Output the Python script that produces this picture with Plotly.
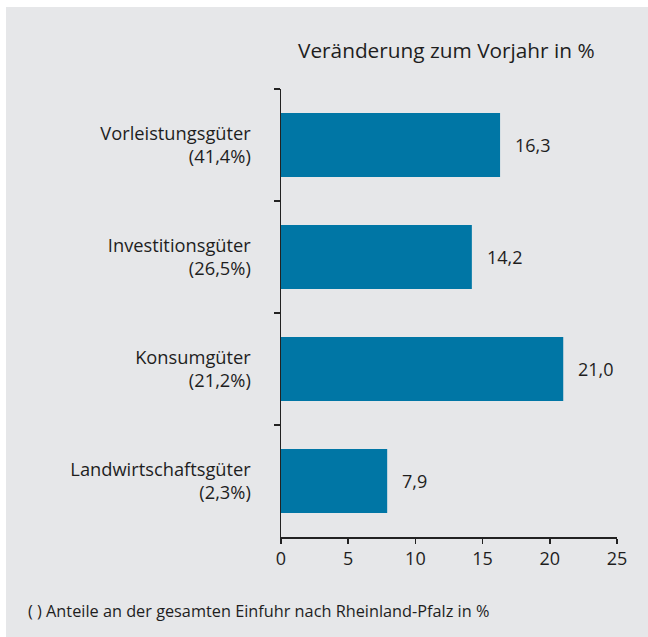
import plotly.graph_objects as go

categories = ["Vorleistungsgüter<br>(41,4%)", "Investitionsgüter<br>(26,5%)",
              "Konsumgüter<br>(21,2%)", "Landwirtschaftsgüter<br>(2,3%)"]
values = [16.3, 14.2, 21.0, 7.9]
x_ticks = [0, 5, 10, 15, 20, 25]
title_text = "Veränderung zum Vorjahr in %"
footnote = "( ) Anteile an der gesamten Einfuhr nach Rheinland-Pfalz in %"

W, H = 648, 637
ML, MR, MT, MB = 281, 31, 89, 100
pw, ph = W - ML - MR, H - MT - MB

def px_x(p):
    return (p - ML) / pw

def px_y(p):
    return 1 - (p - MT) / ph

BG = "#e6e7e9"
BAR = "#0076a5"
TXT = "#1e1e1e"
FONT = "Open Sans"

fig = go.Figure()
fig.add_trace(go.Bar(
    x=values, y=categories, orientation="h",
    marker=dict(color=BAR, line=dict(width=0)),
    width=0.57, hoverinfo="skip",
))

annotations = []
for v, c in zip(values, categories):
    annotations.append(dict(
        x=v, y=c, xref="x", yref="y", text=f"{v:.1f}".replace(".", ","),
        showarrow=False, xanchor="left", yanchor="middle", xshift=13,
        font=dict(size=18, color=TXT, family=FONT),
    ))
annotations.append(dict(
    x=px_x(446), y=px_y(50), xref="paper", yref="paper", text=title_text,
    showarrow=False, xanchor="center", yanchor="middle",
    font=dict(size=20.8, color=TXT, family=FONT),
))
annotations.append(dict(
    x=px_x(26), y=px_y(611), xref="paper", yref="paper", text=footnote,
    showarrow=False, xanchor="left", yanchor="middle",
    font=dict(size=16.3, color=TXT, family=FONT),
))

shapes = [
    dict(type="rect", xref="paper", yref="paper", x0=px_x(-5), x1=px_x(W + 5),
         y0=px_y(7), y1=px_y(-5), fillcolor="white", line=dict(width=0), layer="below"),
    dict(type="rect", xref="paper", yref="paper", x0=px_x(-5), x1=px_x(6),
         y0=px_y(H + 5), y1=px_y(-5), fillcolor="white", line=dict(width=0), layer="below"),
]

fig.update_layout(
    width=W, height=H,
    margin=dict(l=ML, r=MR, t=MT, b=MB, pad=0),
    paper_bgcolor=BG, plot_bgcolor=BG,
    showlegend=False,
    font=dict(family=FONT, color=TXT, size=18),
    annotations=annotations, shapes=shapes,
)
fig.update_xaxes(
    range=[0, 25], tickvals=x_ticks, ticktext=[str(t) for t in x_ticks],
    showgrid=False, zeroline=False, showline=True, linecolor="#222222", linewidth=1.5,
    ticks="outside", ticklen=5, tickwidth=1.5, tickcolor="#222222",
    tickfont=dict(size=18, color=TXT, family=FONT), fixedrange=True,
)
fig.update_yaxes(
    type="category", autorange="reversed",
    showgrid=False, zeroline=False, showline=True, linecolor="#222222", linewidth=1.5,
    ticks="outside", ticklen=6, tickwidth=1.5, tickcolor="#222222", tickson="boundaries",
    tickfont=dict(size=18.3, color=TXT, family=FONT), ticklabelstandoff=25, fixedrange=True,
)

fig.write_html(
    "out.html",
    config={"displayModeBar": False, "staticPlot": True},
    post_script=("document.body.style.margin='0';"
                 "document.body.style.overflow='hidden';"
                 "document.documentElement.style.overflow='hidden';"),
)
